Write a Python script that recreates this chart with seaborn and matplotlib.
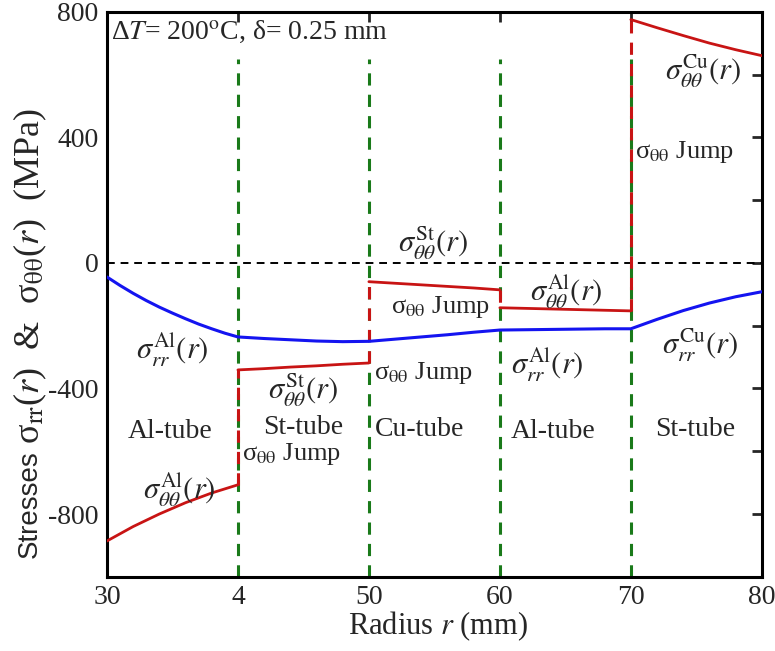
import numpy as np
import pandas as pd
import seaborn as sns
import matplotlib.pyplot as plt
from matplotlib.ticker import MultipleLocator

# DATA
interfaces = [40, 50, 60, 70]
xtick_vals = [30, 40, 50, 60, 70, 80]
xtick_labels = ['30', '4', '50', '60', '70', '80']

# radial stress (continuous through all tubes)
r_rr = [30, 31, 32, 33, 34, 35, 36, 37, 38, 39, 40, 42, 44, 46, 48, 50,
        52, 54, 56, 58, 60, 62, 64, 66, 68, 70, 72, 74, 76, 78, 80]
s_rr = [-45, -72, -97, -120, -141, -160, -178, -195, -210, -224, -236, -241, -245, -249, -251, -250,
        -243, -236, -229, -221, -214, -213, -212, -211, -210, -210, -180, -152, -128, -108, -92]

# hoop stress, one piece per tube
r_th_al1 = [30, 32, 34, 36, 38, 40]
s_th_al1 = [-886, -840, -800, -764, -733, -707]
r_th_st1 = [40, 42, 44, 46, 48, 50]
s_th_st1 = [-341, -337, -332, -328, -323, -319]
r_th_cu1 = [50, 52, 54, 56, 58, 60]
s_th_cu1 = [-60, -65, -70, -75, -80, -86]
r_th_al2 = [60, 62, 64, 66, 68, 70]
s_th_al2 = [-143, -145, -147, -149, -151, -153]
r_th_cu2 = [70, 72, 74, 76, 78, 80]
s_th_cu2 = [775, 749, 724, 700, 679, 660]

# BUILD GRAPH
sns.set_style('white')
plt.rcParams['font.family'] = ['Liberation Serif', 'DejaVu Serif']
plt.rcParams['mathtext.fontset'] = 'stix'
plt.rcParams['axes.unicode_minus'] = False

fig, ax = plt.subplots(figsize=(7.75, 6.51), dpi=100)

green = '#1a7a1a'
red = '#c81414'
blue = '#1414f0'

# tube interfaces
for xi in interfaces:
    ax.axvline(xi, ymin=0, ymax=(650 + 1000) / 1800, color=green, ls=(0, (4, 3)), lw=2.2, zorder=1)
ax.axhline(0, color='black', ls=(0, (4, 3)), lw=1.4, zorder=1)

# hoop stress jumps at the interfaces
pieces = [(r_th_al1, s_th_al1), (r_th_st1, s_th_st1), (r_th_cu1, s_th_cu1),
          (r_th_al2, s_th_al2), (r_th_cu2, s_th_cu2)]
for (ra, sa), (rb, sb) in zip(pieces[:-1], pieces[1:]):
    sns.lineplot(x=[ra[-1], rb[0]], y=[sa[-1], sb[0]], color=red, lw=2.2,
                 ls=(0, (4, 3)), estimator=None, sort=False, ax=ax, zorder=2)

for rr, ss in pieces:
    sns.lineplot(x=rr, y=ss, color=red, lw=2.0, estimator=None, ax=ax, zorder=3)

sns.lineplot(x=r_rr, y=s_rr, color=blue, lw=2.2, estimator=None, ax=ax, zorder=3)

# AXES
ax.set_xlim(30, 80)
ax.set_ylim(-1000, 800)
ax.set_xticks(xtick_vals)
ax.set_xticklabels(xtick_labels)
ax.yaxis.set_major_locator(MultipleLocator(400))
ax.yaxis.set_minor_locator(MultipleLocator(200))
ax.tick_params(axis='both', which='both', direction='in', top=True, right=True,
               labelsize=20, width=2, length=7, pad=6)
for s in ax.spines.values():
    s.set_linewidth(2.2)
    s.set_color('black')

ax.set_xlabel(r'Radius $r$ (mm)', fontsize=22)
ax.xaxis.set_label_coords(0.505, -0.058)
ax.set_ylabel('')

# y label: "Stresses" in sans, the rest in serif
t1 = ax.text(-0.1176, 0.034, 'Stresses', rotation=90, ha='center', va='bottom',
             fontsize=20, family='Liberation Sans', transform=ax.transAxes)
ax.annotate(r'σ$_{\rm rr}$($r$)  &  σ$_{\rm θθ}$($r$)  (MPa)', xy=(0.5, 1.0), xycoords=t1,
            xytext=(0, 4), textcoords='offset points', rotation=90,
            ha='center', va='bottom', fontsize=26)

# ANNOTATIONS
fs = 22
fj = 19
ax.text(30.3, 735, r'Δ$T$= 200$^{\rm o}$C, δ= 0.25 mm', fontsize=20, va='center')
ax.text(35.5, -723, r'$\sigma_{\theta\theta}^{\rm Al}(r)$', fontsize=fs, ha='center', va='center')
ax.text(35.0, -275, r'$\sigma_{rr}^{\rm Al}(r)$', fontsize=fs, ha='center', va='center')
ax.text(34.8, -538, 'Al-tube', fontsize=20, ha='center', va='center')
ax.text(45.0, -405, r'$\sigma_{\theta\theta}^{\rm St}(r)$', fontsize=fs, ha='center', va='center')
ax.text(45.0, -526, 'St-tube', fontsize=20, ha='center', va='center')
ax.text(40.3, -609, r'σ$_{\rm θθ}$ Jump', fontsize=fj, ha='left', va='center')
ax.text(50.4, -350, r'σ$_{\rm θθ}$ Jump', fontsize=fj, ha='left', va='center')
ax.text(53.9, -532, 'Cu-tube', fontsize=20, ha='center', va='center')
ax.text(54.9, 64, r'$\sigma_{\theta\theta}^{\rm St}(r)$', fontsize=fs, ha='center', va='center')
ax.text(51.7, -142, r'σ$_{\rm θθ}$ Jump', fontsize=fj, ha='left', va='center')
ax.text(65.1, -90, r'$\sigma_{\theta\theta}^{\rm Al}(r)$', fontsize=fs, ha='center', va='center')
ax.text(63.6, -325, r'$\sigma_{rr}^{\rm Al}(r)$', fontsize=fs, ha='center', va='center')
ax.text(64.1, -538, 'Al-tube', fontsize=20, ha='center', va='center')
ax.text(74.9, -532, 'St-tube', fontsize=20, ha='center', va='center')
ax.text(75.3, -261, r'$\sigma_{rr}^{\rm Cu}(r)$', fontsize=fs, ha='center', va='center')
ax.text(75.5, 609, r'$\sigma_{\theta\theta}^{\rm Cu}(r)$', fontsize=fs, ha='center', va='center')
ax.text(70.3, 354, r'σ$_{\rm θθ}$ Jump', fontsize=fj, ha='left', va='center')

fig.subplots_adjust(left=0.138, right=0.983, top=0.982, bottom=0.114)
fig.savefig('out.png', dpi=100)
